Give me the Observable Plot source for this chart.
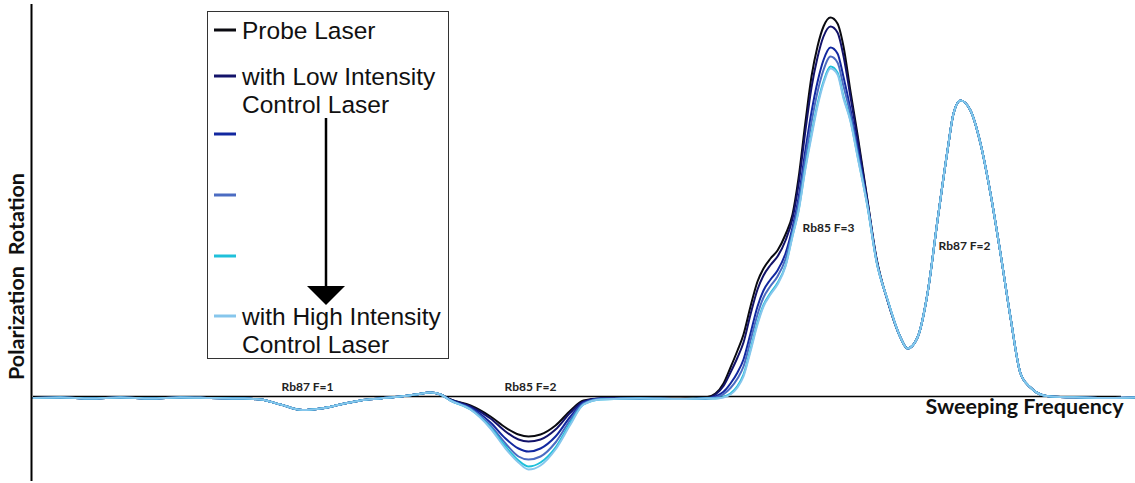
<!DOCTYPE html>
<html>
<head>
<meta charset="utf-8">
<script src="https://cdn.jsdelivr.net/npm/d3@7"></script>
<script src="https://cdn.jsdelivr.net/npm/@observablehq/plot@0.6"></script>
<style>
  body { margin: 0; background: #fff; }
  #chart { position: relative; width: 1135px; height: 483px; }
  #chart svg { position: absolute; left: 0; top: 0; }
</style>
</head>
<body>
<div id="chart"></div>
<script>
// Sweep position (GHz from start of scan)
const sweep = [
  0.02, 0.29, 0.59, 0.89, 1.19, 1.49, 1.79, 2.09, 2.29, 2.49, 2.71, 2.89, 3.09, 3.29, 3.49, 3.69, 3.84, 3.99, 4.09,
  4.19, 4.39, 4.59, 4.74, 4.87, 4.97, 5.09, 5.24, 5.39, 5.52, 5.69,
  6.09, 6.49, 6.74,
  6.84, 6.92, 6.99, 7.06, 7.12, 7.19, 7.26, 7.32, 7.39, 7.46, 7.54, 7.61, 7.67, 7.74, 7.80, 7.86, 7.92, 7.99, 8.06, 8.12, 8.19, 8.26, 8.36, 8.45, 8.56,
  8.69, 8.76, 8.86, 8.96, 9.06, 9.16, 9.22, 9.29, 9.39, 9.49, 9.59, 9.69, 9.79, 9.89, 9.99, 10.09, 10.19, 10.49, 10.79, 11.04
];

// Polarization rotation (a.u.), probe alone
const probe = [
  -0.15, -0.1, -0.2, -0.1, -0.2, -0.1, -0.15, -0.2, -0.3, -0.8, -1.35, -1.2, -0.8, -0.4, -0.2, 0, 0.2, 0.4, 0.2,
  -0.3, -0.9, -2.0, -3.1, -3.8, -4.0, -3.8, -2.9, -1.4, -0.4, -0.2,
  -0.2, -0.2, -0.1,
  0.3, 1.3, 2.9, 4.6, 6.2, 9.0, 11.5, 12.8, 13.8, 14.6, 16.2, 18.2, 21.8, 27.5, 32.0, 35.0, 37.0, 37.9, 37.3, 35.0, 30.5, 26.2, 19.6, 13.8, 9.6,
  5.9, 4.8, 5.9, 10.3, 17.6, 24.6, 28.3, 29.6, 28.6, 25.3, 20.3, 14.3, 7.9, 2.3, 0.9, 0.2, 0, -0.1, -0.15, -0.1
];

// Control laser, lowest intensity
const controlLow = [
  -0.15, -0.1, -0.2, -0.1, -0.2, -0.1, -0.15, -0.2, -0.3, -0.8, -1.35, -1.2, -0.8, -0.4, -0.2, 0, 0.2, 0.4, 0.2,
  -0.3, -1.0, -2.2, -3.5, -4.3, -4.5, -4.3, -3.3, -1.6, -0.5, -0.2,
  -0.2, -0.25, -0.2,
  0.2, 1.05, 2.4, 3.9, 5.4, 8.2, 10.7, 12.1, 13.15, 14.0, 15.6, 17.8, 21.2, 26.65, 30.9, 33.9, 36.0, 37.0, 36.4, 34.05, 29.95, 25.8, 19.5, 13.75, 9.6,
  5.9, 4.8, 5.9, 10.3, 17.6, 24.6, 28.3, 29.6, 28.6, 25.3, 20.3, 14.3, 7.9, 2.3, 0.9, 0.2, 0, -0.1, -0.15, -0.1
];

// Control laser, second intensity step
const controlStep2 = [
  -0.15, -0.1, -0.2, -0.1, -0.2, -0.1, -0.15, -0.2, -0.3, -0.8, -1.35, -1.2, -0.8, -0.4, -0.2, 0, 0.2, 0.4, 0.2,
  -0.35, -1.1, -2.6, -4.2, -5.2, -5.5, -5.2, -4.0, -2.0, -0.6, -0.2,
  -0.2, -0.25, -0.2,
  0, 0.47, 1.3, 2.4, 3.7, 6.3, 9.0, 10.6, 11.7, 12.6, 14.3, 16.9, 19.85, 24.7, 28.45, 31.45, 33.65, 34.9, 34.3, 31.95, 28.7, 24.9, 19.25, 13.6, 9.65,
  5.9, 4.8, 5.9, 10.3, 17.6, 24.6, 28.3, 29.6, 28.6, 25.3, 20.3, 14.3, 7.9, 2.3, 0.9, 0.2, 0, -0.1, -0.15, -0.1
];

// Control laser, third intensity step
const controlStep3 = [
  -0.15, -0.1, -0.2, -0.1, -0.2, -0.1, -0.15, -0.2, -0.3, -0.8, -1.35, -1.2, -0.8, -0.4, -0.2, 0, 0.2, 0.4, 0.2,
  -0.4, -1.2, -2.9, -4.7, -6.0, -6.3, -6.0, -4.6, -2.3, -0.7, -0.25,
  -0.2, -0.25, -0.2,
  -0.1, 0.24, 0.85, 1.8, 3.0, 5.6, 8.2, 9.9, 11.05, 12.0, 13.75, 16.5, 19.3, 23.9, 27.45, 30.45, 32.65, 34.0, 33.4, 31.05, 28.2, 24.5, 19.15, 13.55, 9.65,
  5.9, 4.8, 5.9, 10.3, 17.6, 24.6, 28.3, 29.6, 28.6, 25.3, 20.3, 14.3, 7.9, 2.3, 0.9, 0.2, 0, -0.1, -0.15, -0.1
];

// Control laser, fourth intensity step
const controlStep4 = [
  -0.15, -0.1, -0.2, -0.1, -0.2, -0.1, -0.15, -0.2, -0.3, -0.8, -1.35, -1.2, -0.8, -0.4, -0.2, 0, 0.2, 0.4, 0.2,
  -0.4, -1.3, -3.1, -5.0, -6.4, -7.0, -6.6, -5.1, -2.6, -0.8, -0.3,
  -0.2, -0.25, -0.2,
  -0.2, -0.04, 0.3, 1.05, 2.2, 4.7, 7.4, 9.15, 10.35, 11.35, 13.1, 16.1, 18.6, 23.0, 26.25, 29.25, 31.5, 33.0, 32.4, 30.0, 27.6, 24.1, 19.0, 13.5, 9.7,
  5.9, 4.8, 5.9, 10.3, 17.6, 24.6, 28.3, 29.6, 28.6, 25.3, 20.3, 14.3, 7.9, 2.3, 0.9, 0.2, 0, -0.1, -0.15, -0.1
];

// Control laser, highest intensity
const controlHigh = [
  -0.15, -0.1, -0.2, -0.1, -0.2, -0.1, -0.15, -0.2, -0.3, -0.8, -1.35, -1.2, -0.8, -0.4, -0.2, 0, 0.2, 0.4, 0.2,
  -0.4, -1.3, -3.2, -5.2, -6.6, -7.3, -6.9, -5.3, -2.8, -0.8, -0.3,
  -0.2, -0.25, -0.2,
  -0.2, -0.1, 0.2, 0.9, 2.0, 4.5, 7.2, 9.0, 10.2, 11.2, 13.0, 16.0, 18.5, 22.8, 26.0, 29.0, 31.3, 32.8, 32.2, 29.8, 27.5, 24.0, 19.0, 13.5, 9.7,
  5.9, 4.8, 5.9, 10.3, 17.6, 24.6, 28.3, 29.6, 28.6, 25.3, 20.3, 14.3, 7.9, 2.3, 0.9, 0.2, 0, -0.1, -0.15, -0.1
];

const seriesValues = [probe, controlLow, controlStep2, controlStep3, controlStep4, controlHigh];
const seriesColors = ["#0a0a10", "#13136a", "#1228a0", "#4b6cc2", "#1fc0da", "#86c6ec"];
const legendLabels = [["Probe Laser"], ["with Low Intensity", "Control Laser"], [], [], [], ["with High Intensity", "Control Laser"]];

// Hyperfine transition labels
const peakNames = ["Rb87 F=1", "Rb85 F=2", "Rb85 F=3", "Rb87 F=2"];
const peakSweep = [2.76, 4.99, 7.97, 9.33];
const peakRotation = [0.9, 0.9, 16.8, 15.0];

const rows = seriesValues.flatMap((vals, s) =>
  vals.map((v, i) => ({sweep: sweep[i], rotation: v, series: s}))
);
const peaks = peakNames.map((name, i) => ({name, sweep: peakSweep[i], rotation: peakRotation[i]}));

const labelFont = "Lato, 'Open Sans', sans-serif";

const chart = Plot.plot({
  width: 1135,
  height: 483,
  marginLeft: 31,
  marginRight: 0,
  marginTop: 4,
  marginBottom: 2,
  x: {domain: [0, 11.04], axis: null},
  y: {domain: [-8.5, 39.2], axis: null},
  style: {background: "#fff", overflow: "visible"},
  marks: [
    Plot.ruleY([0], {x1: 0.02, x2: 10.9, stroke: "#000", strokeWidth: 1.6}),
    ...seriesValues.map((_, s) =>
      Plot.line(rows.filter(r => r.series === s), {
        x: "sweep", y: "rotation", stroke: seriesColors[s], strokeWidth: 2, curve: "monotone-x"
      })
    ),
    Plot.ruleX([0], {stroke: "#000", strokeWidth: 2}),
    Plot.text(peaks, {
      x: "sweep", y: "rotation", text: "name", fill: "#222",
      fontSize: 12, fontWeight: "bold", fontFamily: labelFont
    }),
    Plot.text(["Polarization\u2002Rotation"], {
      frameAnchor: "left", y: 12.0, dx: -14, rotate: -90, textAnchor: "middle",
      fontSize: 21.5, fontWeight: "bold", fontFamily: labelFont, fill: "#111"
    }),
    Plot.text(["Sweeping Frequency"], {
      x: 9.93, y: -1.1, textAnchor: "middle",
      fontSize: 21.5, fontWeight: "bold", fontFamily: labelFont, fill: "#111"
    })
  ]
});
document.getElementById("chart").appendChild(chart);

// Legend box with intensity arrow
const legend = d3.select("#chart").append("svg")
  .attr("width", 1135).attr("height", 483);
legend.append("rect")
  .attr("x", 207.5).attr("y", 11.5).attr("width", 241).attr("height", 347)
  .attr("fill", "#fff").attr("stroke", "#333").attr("stroke-width", 1);

const rowY = [30, 76, 134, 195, 256, 316];
seriesColors.forEach((c, i) => {
  legend.append("line")
    .attr("x1", 214).attr("x2", 236).attr("y1", rowY[i]).attr("y2", rowY[i])
    .attr("stroke", c).attr("stroke-width", 3);
  legendLabels[i].forEach((t, k) => {
    legend.append("text")
      .attr("x", 242).attr("y", rowY[i] + k * 28)
      .attr("dominant-baseline", "central")
      .attr("font-family", "'Liberation Sans', Arial, sans-serif")
      .attr("font-size", 24.5).attr("fill", "#111")
      .text(t);
  });
});
legend.append("line")
  .attr("x1", 326).attr("x2", 326).attr("y1", 118).attr("y2", 290)
  .attr("stroke", "#000").attr("stroke-width", 2.5);
legend.append("path")
  .attr("d", "M307,286 L345,286 L326,305 Z")
  .attr("fill", "#000");
</script>
</body>
</html>
